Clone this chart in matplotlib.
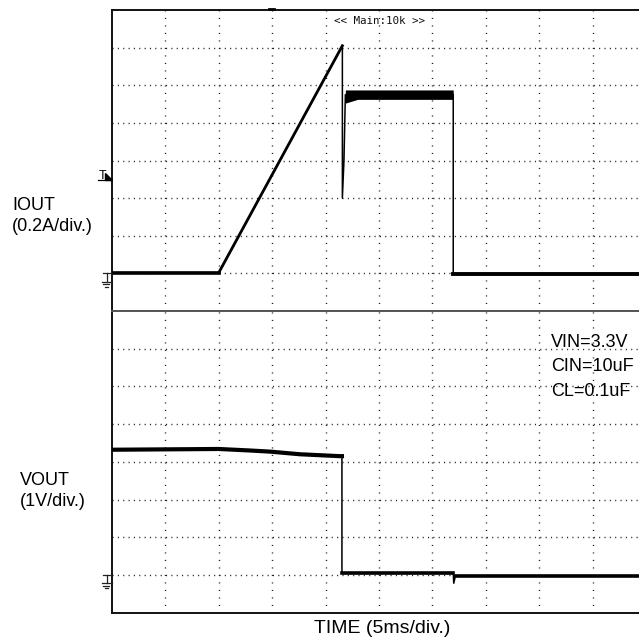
import matplotlib

matplotlib.use("Agg")
import matplotlib.pyplot as plt
from matplotlib.lines import Line2D
from matplotlib.patches import Polygon

W, H = 639, 640  # figure size in px (dpi 100)

# time axis: 5 ms/div, 10 div
t_lim = (0.0, 50.0)
t_grid = [5, 10, 15, 20, 25, 30, 35, 40, 45]

# IOUT (A), 0.2 A/div, ground one division above the panel bottom
i_lim = (-0.2, 1.4)
i_grid = [0.0, 0.2, 0.4, 0.6, 0.8, 1.0, 1.2]
iout_t = [0.0, 10.0, 21.57, 21.57, 21.72, 21.85, 31.95, 31.95, 50.0]
iout_a = [0.004, 0.004, 1.21, 0.40, 0.60, 0.95, 0.95, -0.005, -0.005]
# noisy plateau while the load is on
band_t = [21.85, 23.0, 31.95]
band_hi = [0.975, 0.975, 0.975]
band_lo = [0.905, 0.925, 0.925]

# VOUT (V), 1 V/div
v_lim = (-1.0, 7.0)
v_grid = [0, 1, 2, 3, 4, 5, 6]
vout_t = [0.0, 10.0, 12.9, 14.8, 17.6, 21.3, 21.53, 21.53, 31.95, 32.0, 32.15, 50.0]
vout_v = [3.32, 3.34, 3.30, 3.27, 3.20, 3.15, 3.15, 0.04, 0.04, -0.22, -0.03, -0.03]

cond_lines = ["VIN=3.3V", "CIN=10uF", "CL=0.1uF"]

plt.rcParams["lines.scale_dashes"] = False
plt.rcParams["font.family"] = ["Liberation Sans", "DejaVu Sans"]

fig = plt.figure(figsize=(W / 100, H / 100), dpi=100)


def fx(x):
    return x / W


def fy(y):
    return 1 - y / H


L, R = 112, 646
ax_top = fig.add_axes([fx(L), fy(311), (R - L) / W, 301 / H])
ax_bot = fig.add_axes([fx(L), fy(612.6), (R - L) / W, 301.6 / H])

dot = "#222222"
for ax, ylim, ygrid in ((ax_top, i_lim, i_grid), (ax_bot, v_lim, v_grid)):
    ax.set_xlim(*t_lim)
    ax.set_ylim(*ylim)
    ax.set_xticks([])
    ax.set_yticks([])
    for t in t_grid:
        ax.axvline(t, color=dot, lw=1.0, dashes=(0.8, 4.6), zorder=1)
    for g in ygrid:
        ax.axhline(g, color=dot, lw=1.0, dashes=(0.8, 3.05), zorder=1)
    for s in ax.spines.values():
        s.set_color("#111111")
        s.set_linewidth(1.4)
ax_top.spines["bottom"].set_color("#555555")
ax_bot.spines["top"].set_color("#555555")

# IOUT: thin edges, heavier flat/ramp parts (scope noise)
ax_top.plot(iout_t, iout_a, color="black", lw=1.1, zorder=3)
ax_top.plot(iout_t[:2], iout_a[:2], color="black", lw=2.6, zorder=3)
ax_top.plot(iout_t[1:3], iout_a[1:3], color="black", lw=2.0, zorder=3)
ax_top.plot(iout_t[-2:], iout_a[-2:], color="black", lw=2.8, zorder=3)
ax_top.fill_between(band_t, band_lo, band_hi, color="black", lw=0, zorder=3)

ax_bot.plot(vout_t, vout_v, color="black", lw=1.1, zorder=3)
ax_bot.plot(vout_t[:7], vout_v[:7], color="black", lw=3.0, zorder=3)
ax_bot.plot(vout_t[7:9], vout_v[7:9], color="black", lw=2.6, zorder=3)
ax_bot.plot(vout_t[-2:], vout_v[-2:], color="black", lw=2.6, zorder=3)

fig.text(fx(379), fy(21), "<< Main:10k >>", family="DejaVu Sans Mono",
         fontsize=7.8, ha="center", va="center", color="#111111")

# trigger position mark on the top frame
fig.add_artist(Line2D([fx(269), fx(274)], [fy(9), fy(9)], color="black", lw=2))


def ground_mark(y0):
    segs = [((102.7, y0), (110.7, y0)), ((106.7, y0), (106.7, y0 + 8.4)),
            ((101.7, y0 + 8.4), (111.7, y0 + 8.4)),
            ((103.3, y0 + 11), (109.3, y0 + 11)), ((104.7, y0 + 13.4), (108, y0 + 13.4))]
    for (x1, y1), (x2, y2) in segs:
        fig.add_artist(Line2D([fx(x1), fx(x2)], [fy(y1), fy(y2)], color="#222222", lw=0.9))


ground_mark(273.3)
ground_mark(575.0)
fig.text(fx(98.5), fy(179), "T", fontsize=9, ha="left", va="baseline", color="black")
fig.add_artist(Line2D([fx(98), fx(111)], [fy(179.5), fy(179.5)], color="black", lw=0.9))
fig.add_artist(Polygon([(fx(105), fy(172.5)), (fx(105), fy(180)), (fx(111.5), fy(180))],
                       closed=True, color="black", transform=fig.transFigure))

fs = 13
fig.text(fx(12), fy(210), "IOUT", fontsize=fs, ha="left", va="baseline")
fig.text(fx(12), fy(231), "(0.2A/div.)", fontsize=fs, ha="left", va="baseline")
fig.text(fx(20), fy(485), "VOUT", fontsize=fs, ha="left", va="baseline")
fig.text(fx(20), fy(506), "(1V/div.)", fontsize=fs, ha="left", va="baseline")
for k, s in enumerate(cond_lines):
    fig.text(fx(551), fy(347 + 24.3 * k), s, fontsize=fs, ha="left", va="baseline")
fig.text(fx(382), fy(633), "TIME (5ms/div.)", fontsize=14, ha="center", va="baseline")

fig.savefig("out.png", dpi=100, facecolor="white")
